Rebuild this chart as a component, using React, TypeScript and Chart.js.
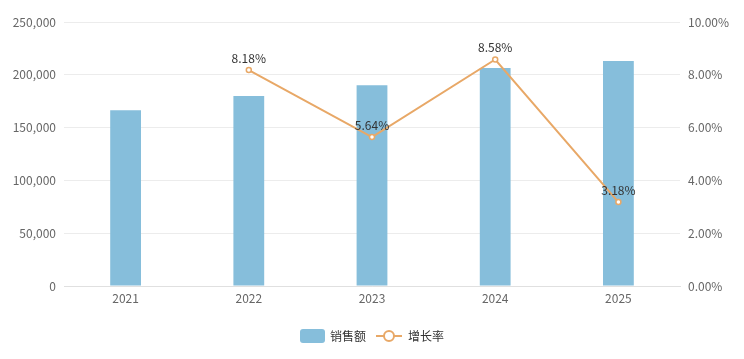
import React, { useEffect, useRef } from "react";
import { Chart, registerables } from "chart.js";

Chart.register(...registerables);

const years = ["2021", "2022", "2023", "2024", "2025"];
const sales = [166400, 180000, 190200, 206500, 213000];
const growth = [null, 8.18, 5.64, 8.58, 3.18];
const salesLabel = "销售额";
const growthLabel = "增长率";

const BAR_COLOR = "#86bedb";
const LINE_COLOR = "#e8a867";
const FONT = "'Noto Sans CJK SC', 'Noto Sans', sans-serif";

const labelPlugin = {
  id: "pointLabels",
  afterDatasetsDraw(chart: any) {
    const ctx = chart.ctx;
    const meta = chart.getDatasetMeta(0);
    ctx.save();
    ctx.font = `12px ${FONT}`;
    ctx.fillStyle = "#333";
    ctx.textAlign = "center";
    ctx.textBaseline = "bottom";
    meta.data.forEach((pt: any, i: number) => {
      const v = growth[i];
      if (v == null) return;
      ctx.fillText(v.toFixed(2) + "%", pt.x, pt.y - 6);
    });
    ctx.restore();
  },
};

const legendPlugin = {
  id: "customLegend",
  afterDraw(chart: any) {
    const ctx = chart.ctx;
    const cy = 336;
    ctx.save();
    ctx.font = `12px ${FONT}`;
    ctx.textBaseline = "middle";
    ctx.textAlign = "left";
    ctx.fillStyle = BAR_COLOR;
    ctx.beginPath();
    (ctx as any).roundRect(300, cy - 7, 25, 14, 3);
    ctx.fill();
    ctx.fillStyle = "#333";
    ctx.fillText(salesLabel, 330, cy);
    ctx.strokeStyle = LINE_COLOR;
    ctx.lineWidth = 2;
    ctx.beginPath();
    ctx.moveTo(376, cy);
    ctx.lineTo(402, cy);
    ctx.stroke();
    ctx.beginPath();
    ctx.arc(389, cy, 5, 0, Math.PI * 2);
    ctx.fillStyle = "#fff";
    ctx.fill();
    ctx.stroke();
    ctx.fillStyle = "#333";
    ctx.fillText(growthLabel, 408, cy);
    ctx.restore();
  },
};

export default function App() {
  const ref = useRef<HTMLCanvasElement>(null);
  useEffect(() => {
    document.body.style.margin = "0";
    const chart = new Chart(ref.current!, {
      type: "bar",
      data: {
        labels: years,
        datasets: [
          {
            type: "line",
            label: growthLabel,
            data: growth as any,
            yAxisID: "y1",
            borderColor: LINE_COLOR,
            backgroundColor: "#fff",
            borderWidth: 2,
            pointRadius: 2.5,
            pointBorderWidth: 1.5,
            pointBackgroundColor: "#fff",
            pointBorderColor: LINE_COLOR,
            tension: 0,
            order: 0,
          } as any,
          {
            type: "bar",
            label: salesLabel,
            data: sales,
            yAxisID: "y",
            backgroundColor: BAR_COLOR,
            categoryPercentage: 1,
            barPercentage: 0.25,
            order: 1,
          },
        ],
      },
      options: {
        animation: false,
        responsive: false,
        layout: { padding: { top: 22, bottom: 0, left: 0, right: 0 } },
        plugins: { legend: { display: false }, tooltip: { enabled: false } },
        scales: {
          x: {
            grid: { display: false, drawTicks: false },
            border: { display: true, color: "#e0e0e0" },
            ticks: { color: "#666", font: { size: 12, family: FONT }, padding: 5 },
            afterFit(scale: any) {
              scale.height = 73;
            },
          },
          y: {
            position: "left",
            min: 0,
            max: 250000,
            ticks: {
              stepSize: 50000,
              color: "#666",
              font: { size: 12, family: FONT },
              padding: 8,
              callback: (v: any) => Number(v).toLocaleString("en-US"),
            },
            grid: { color: "#ececec", drawTicks: false },
            border: { display: false },
            afterFit(scale: any) {
              scale.width = 64;
            },
          },
          y1: {
            position: "right",
            min: 0,
            max: 10,
            ticks: {
              stepSize: 2,
              color: "#666",
              font: { size: 12, family: FONT },
              padding: 8,
              callback: (v: any) => Number(v).toFixed(2) + "%",
            },
            grid: { display: false, drawTicks: false },
            border: { display: false },
            afterFit(scale: any) {
              scale.width = 64;
            },
          },
        },
      },
      plugins: [labelPlugin, legendPlugin],
    });
    return () => chart.destroy();
  }, []);
  return <canvas ref={ref} width={744} height={359} style={{ display: "block" }} />;
}
